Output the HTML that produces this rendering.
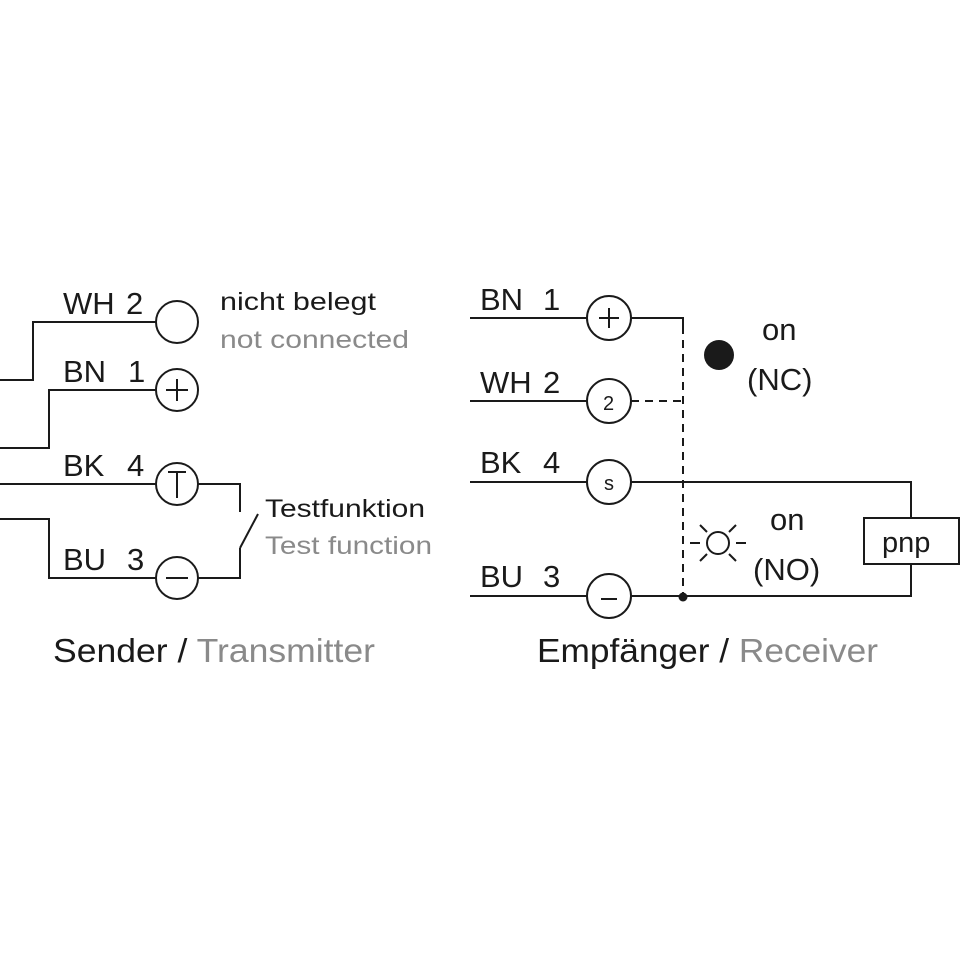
<!DOCTYPE html>
<html><head><meta charset="utf-8"><style>html,body{margin:0;padding:0;background:#fff}svg{display:block}</style></head>
<body>
<svg width="960" height="960" viewBox="0 0 960 960" xmlns="http://www.w3.org/2000/svg" font-family="Liberation Sans, DejaVu Sans, sans-serif">
<g fill="none" stroke="#1a1a1a" stroke-width="2">
<polyline points="0,380 33,380 33,322 157,322"/>
<polyline points="0,448 49,448 49,390 157,390"/>
<line x1="0" y1="484" x2="157" y2="484"/>
<polyline points="0,519 49,519 49,578 157,578"/>
<polyline points="198,484 240,484 240,512"/>
<line x1="258" y1="514" x2="240" y2="548"/>
<polyline points="240,548 240,578 198,578"/>
<circle cx="177" cy="322" r="21"/>
<circle cx="177" cy="390" r="21"/>
<circle cx="177" cy="484" r="21"/>
<circle cx="177" cy="578" r="21"/>
<line x1="166" y1="390" x2="188" y2="390"/><line x1="177" y1="379" x2="177" y2="401"/>
<line x1="166" y1="578" x2="188" y2="578"/>
<line x1="168" y1="472" x2="186" y2="472"/><line x1="177" y1="472" x2="177" y2="498"/>
<line x1="470" y1="318" x2="587" y2="318"/>
<line x1="470" y1="401" x2="587" y2="401"/>
<line x1="470" y1="482" x2="587" y2="482"/>
<line x1="470" y1="596" x2="587" y2="596"/>
<polyline points="631,318 683,318 683,326"/>
<line x1="631" y1="401" x2="683" y2="401" stroke-dasharray="8,6"/>
<line x1="683" y1="326" x2="683" y2="596" stroke-dasharray="8,6"/>
<polyline points="631,482 911,482 911,518"/>
<polyline points="911,564 911,596 631,596"/>
<rect x="864" y="518" width="95" height="46"/>
<circle cx="609" cy="318" r="22"/>
<circle cx="609" cy="401" r="22"/>
<circle cx="609" cy="482" r="22"/>
<circle cx="609" cy="596" r="22"/>
<line x1="599" y1="318" x2="619" y2="318"/><line x1="609" y1="308" x2="609" y2="328"/>
<line x1="601" y1="599" x2="617" y2="599"/>
<circle cx="718" cy="543" r="11"/>
<line x1="690" y1="543" x2="700" y2="543"/><line x1="736" y1="543" x2="746" y2="543"/>
<line x1="700" y1="525" x2="707" y2="532"/><line x1="736" y1="525" x2="729" y2="532"/>
<line x1="700" y1="561" x2="707" y2="554"/><line x1="736" y1="561" x2="729" y2="554"/>
</g>
<circle cx="683" cy="597" r="4.5" fill="#1a1a1a"/>
<circle cx="719" cy="355" r="15" fill="#1a1a1a"/>
<g fill="#1a1a1a" font-size="31">
<text x="63" y="314">WH</text><text x="126" y="314">2</text>
<text x="63" y="382">BN</text><text x="128" y="382">1</text>
<text x="63" y="476">BK</text><text x="127" y="476">4</text>
<text x="63" y="570">BU</text><text x="127" y="570">3</text>
<text x="480" y="310">BN</text><text x="543" y="310">1</text>
<text x="480" y="393">WH</text><text x="543" y="393">2</text>
<text x="480" y="473">BK</text><text x="543" y="473">4</text>
<text x="480" y="587">BU</text><text x="543" y="587">3</text>
<text x="762" y="340">on</text>
<text x="747" y="390">(NC)</text>
<text x="770" y="530">on</text>
<text x="753" y="580">(NO)</text>
<text x="882" y="552" font-size="29">pnp</text>
<text x="603" y="410" font-size="20">2</text>
<text x="604" y="490" font-size="20">s</text>
</g>
<g font-size="25">
<text x="220" y="310" fill="#1a1a1a" textLength="156" lengthAdjust="spacingAndGlyphs">nicht belegt</text>
<text x="220" y="348" fill="#8a8a8a" textLength="189" lengthAdjust="spacingAndGlyphs">not connected</text>
<text x="265" y="517" fill="#1a1a1a" textLength="160" lengthAdjust="spacingAndGlyphs">Testfunktion</text>
<text x="265" y="554" fill="#8a8a8a" textLength="167" lengthAdjust="spacingAndGlyphs">Test function</text>
</g>
<g font-size="33">
<text x="53" y="662" textLength="322" lengthAdjust="spacingAndGlyphs"><tspan fill="#1a1a1a">Sender / </tspan><tspan fill="#8a8a8a">Transmitter</tspan></text>
<text x="537" y="662" textLength="341" lengthAdjust="spacingAndGlyphs"><tspan fill="#1a1a1a">Empfänger / </tspan><tspan fill="#8a8a8a">Receiver</tspan></text>
</g>
</svg>
</body></html>
